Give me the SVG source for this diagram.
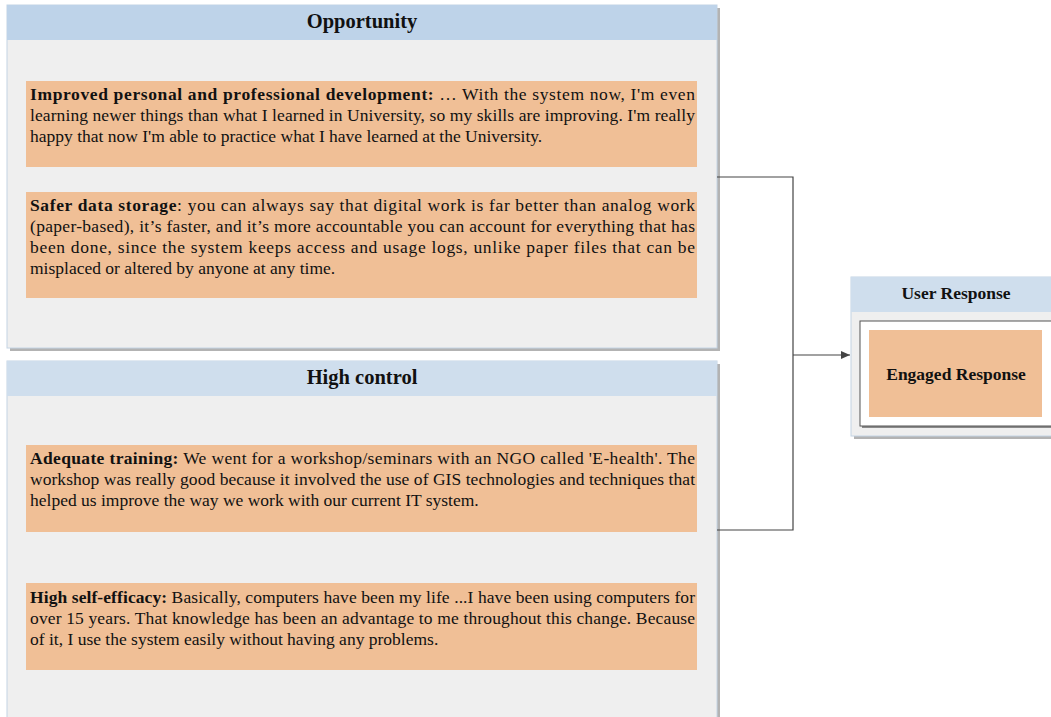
<svg xmlns="http://www.w3.org/2000/svg" width="1051" height="717" viewBox="0 0 1051 717">
  <defs>
    <style>
      .shadow{fill:#b3b3b3}
      .panel{fill:#efefef;stroke:#c4d4e4;stroke-width:1}
      .hdr-a{fill:#bed3e9}
      .hdr-b{fill:#cfdeed}
      .card{fill:#f0bf96}
      .t{font-family:"Liberation Serif","Times New Roman",serif;font-size:17.5px;fill:#111}
      .b{font-weight:bold}
      .title{font-family:"Liberation Serif","Times New Roman",serif;font-size:20.5px;font-weight:bold;fill:#111;text-anchor:middle}
      .label{font-family:"Liberation Serif","Times New Roman",serif;font-size:17.5px;font-weight:bold;fill:#111;text-anchor:middle}
      .wire{fill:none;stroke:#444;stroke-width:1.2}
    </style>
    <marker id="arrow" markerWidth="10" markerHeight="10" refX="9" refY="5" orient="auto" markerUnits="userSpaceOnUse">
      <path d="M0,1 L9,5 L0,9 Z" fill="#444"/>
    </marker>
  </defs>

  <!-- Opportunity panel -->
  <g id="opportunity">
    <rect class="shadow" x="10" y="8" width="710" height="343"/>
    <rect class="panel" x="7" y="5" width="710" height="343"/>
    <rect class="hdr-a" x="7" y="5" width="710" height="35"/>
    <text class="title" x="362" y="28">Opportunity</text>
    <rect class="card" x="26" y="81" width="671" height="86"/>
    <text class="t" x="30" y="100" textLength="665" lengthAdjust="spacing"><tspan class="b">Improved personal and professional development:</tspan> … With the system now, I'm even</text>
    <text class="t" x="30" y="121" textLength="665" lengthAdjust="spacing">learning newer things than what I learned in University, so my skills are improving. I'm really</text>
    <text class="t" x="30" y="142">happy that now I'm able to practice what I have learned at the University.</text>
    <rect class="card" x="26" y="192" width="671" height="106"/>
    <text class="t" x="30" y="211" textLength="665" lengthAdjust="spacing"><tspan class="b">Safer data storage</tspan>: you can always say that digital work is far better than analog work</text>
    <text class="t" x="30" y="232" textLength="665" lengthAdjust="spacing">(paper-based), it’s faster, and it’s more accountable you can account for everything that has</text>
    <text class="t" x="30" y="253" textLength="665" lengthAdjust="spacing">been done, since the system keeps access and usage logs, unlike paper files that can be</text>
    <text class="t" x="30" y="274">misplaced or altered by anyone at any time.</text>
  </g>

  <!-- High control panel -->
  <g id="high-control">
    <rect class="shadow" x="10" y="364" width="710" height="370"/>
    <rect class="panel" x="7" y="361" width="710" height="370"/>
    <rect class="hdr-b" x="7" y="361" width="710" height="35"/>
    <text class="title" x="362" y="384">High control</text>
    <rect class="card" x="26" y="445" width="671" height="87"/>
    <text class="t" x="30" y="464" textLength="665" lengthAdjust="spacing"><tspan class="b">Adequate training:</tspan> We went for a workshop/seminars with an NGO called 'E-health'. The</text>
    <text class="t" x="30" y="485" textLength="665" lengthAdjust="spacing">workshop was really good because it involved the use of GIS technologies and techniques that</text>
    <text class="t" x="30" y="506">helped us improve the way we work with our current IT system.</text>
    <rect class="card" x="26" y="583" width="671" height="87"/>
    <text class="t" x="30" y="603" textLength="665" lengthAdjust="spacing"><tspan class="b">High self-efficacy:</tspan> Basically, computers have been my life ...I have been using computers for</text>
    <text class="t" x="30" y="624" textLength="665" lengthAdjust="spacing">over 15 years. That knowledge has been an advantage to me throughout this change. Because</text>
    <text class="t" x="30" y="645">of it, I use the system easily without having any problems.</text>
  </g>

  <!-- User Response panel -->
  <g id="user-response">
    <rect class="shadow" x="854" y="280" width="200" height="159"/>
    <rect class="panel" x="851" y="277" width="210" height="159"/>
    <rect class="hdr-b" x="851" y="277" width="210" height="35"/>
    <text class="label" x="956" y="299">User Response</text>
    <rect x="862" y="323" width="200" height="105" fill="#8a8a8a"/>
    <rect x="860" y="321" width="200" height="105" fill="#ffffff" stroke="#555" stroke-width="1"/>
    <rect class="card" x="869" y="330" width="173" height="87"/>
    <text class="label" x="956" y="380">Engaged Response</text>
  </g>

  <!-- Connectors -->
  <g id="connectors">
    <path class="wire" d="M717,177 H793 V530 H717"/>
    <path class="wire" d="M793,355 H850" marker-end="url(#arrow)"/>
  </g>
</svg>
